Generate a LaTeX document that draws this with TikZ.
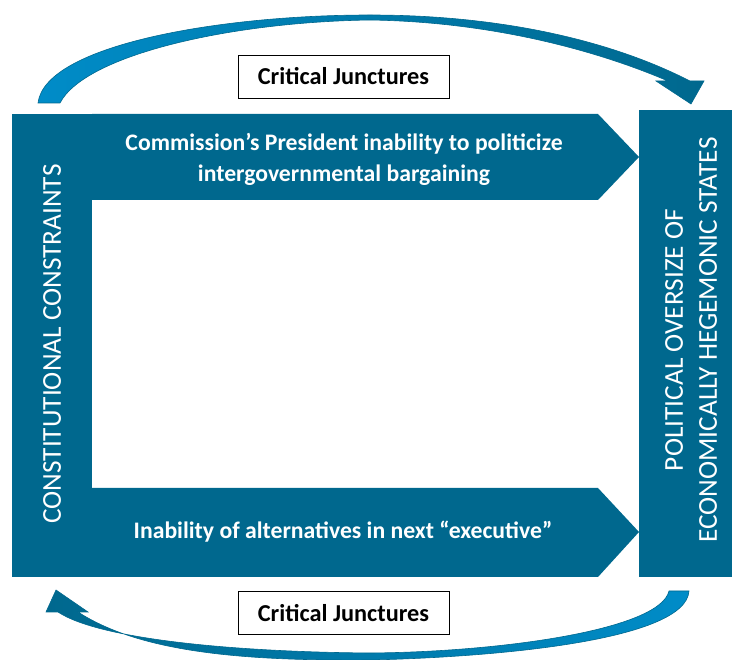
\documentclass[tikz,border=0pt]{standalone}
\usepackage{fontspec}
\setmainfont{Carlito}
\usepackage{tikz}
\definecolor{cjblue}{RGB}{0,104,142}
\definecolor{cjlight}{RGB}{0,140,200}

\begin{document}
\begin{tikzpicture}[x=1pt,y=-1pt,
        boldtxt/.style={text=white,font=\bfseries\fontsize{23.7}{31}\selectfont,align=center},
        sidetxt/.style={text=white,font=\fontsize{27.3}{34}\selectfont,align=center,rotate=90},
        juncbox/.style={draw=black,thick,fill=white,minimum width=211,minimum height=43,
                        font=\bfseries\fontsize{24.3}{28}\selectfont}]
        \useasboundingbox (0,0) rectangle (732,660);

        \fill[cjblue] (12,114) rectangle (92,577);
        \fill[cjblue] (92,114) -- (598,114) -- (639,157) -- (598,200) -- (92,200) -- cycle;
        \fill[cjblue] (92,488) -- (598,488) -- (639,532) -- (598,577) -- (92,577) -- cycle;
        \fill[cjblue] (639,110) rectangle (732,577);

        \node[sidetxt] (constr) at (52,344) {CONSTITUTIONAL CONSTRAINTS};
        \node[sidetxt] (oversize) at (691,340) {POLITICAL OVERSIZE OF\\ECONOMICALLY HEGEMONIC STATES};
        \node[boldtxt] (president) at (344,159) {Commission’s President inability to politicize\\intergovernmental bargaining};
        \node[boldtxt] (alternatives) at (343,532) {Inability of alternatives in next “executive”};

        \shade[left color=cjlight,right color=cjblue,draw=cjblue,line width=0.6pt]
            (38,103) .. controls (45,45) and (220,15) .. (370,15)
            .. controls (500,15) and (610,40) .. (690,81)
            -- (704,81) -- (691,104) -- (656,81) -- (668,81)
            .. controls (605,54) and (500,22) .. (370,20)
            .. controls (230,22) and (85,55) .. (60,103) -- cycle;
        \shade[left color=cjblue,right color=cjlight,draw=cjblue,line width=0.6pt]
            (689,591) .. controls (686,640) and (500,657) .. (370,660)
            .. controls (240,661) and (140,652) .. (78,612)
            -- (88,612) -- (56,590) -- (46,612) -- (58,612)
            .. controls (100,640) and (240,652) .. (370,653)
            .. controls (500,652) and (660,630) .. (669,591) -- cycle;

        \node[juncbox] (topjunc) at (343.5,76.5) {Critical Junctures};
        \node[juncbox] (botjunc) at (343.5,613) {Critical Junctures};
\end{tikzpicture}
\end{document}
